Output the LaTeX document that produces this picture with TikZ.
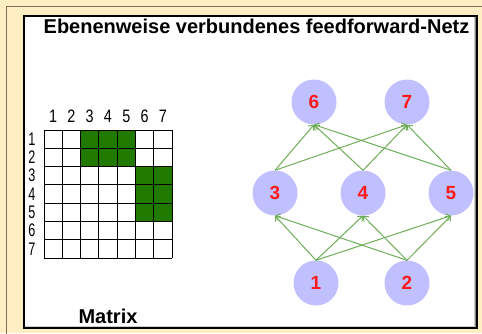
\documentclass[tikz,border=0pt]{standalone}
\usepackage{fontspec}
\setmainfont{Liberation Sans}
\usetikzlibrary{arrows.meta}
\definecolor{bgyellow}{HTML}{FFEEC4}
\definecolor{framegrey}{HTML}{7A705A}
\definecolor{cellgreen}{HTML}{217A00}
\definecolor{edgegreen}{HTML}{6EAE58}
\definecolor{neuron}{HTML}{C0C0FF}
\definecolor{numred}{HTML}{FF1A1A}
\tikzset{
  neuronnode/.style={circle, fill=neuron, minimum size=45pt, inner sep=0pt,
    text=numred, font=\bfseries\fontsize{19}{19}\selectfont},
  conn/.style={draw=edgegreen, line width=1pt, -{Straight Barb[length=4pt,width=7pt]}},
  collabel/.style={inner sep=0pt, font=\fontsize{18}{18}\selectfont},
  rowlabel/.style={inner sep=0pt, font=\fontsize{14}{14}\selectfont},
}
\begin{document}
\begin{tikzpicture}[x=1pt,y=-1pt]
\useasboundingbox (0,0) rectangle (482,333);
\fill[bgyellow] (0,0) rectangle (482,333);
\draw[framegrey, line width=1.2pt] (6.5,334) -- (6.5,6.5) -- (483,6.5);
% inner panel
\fill[white] (24,16) rectangle (477,328);
\draw[black!20, line width=1pt] (25,326) -- (474.5,326) -- (474.5,17);
\draw[black!50, line width=1pt] (25,327) -- (475.5,327) -- (475.5,17);
\draw[black, line width=1.6pt] (24,16) rectangle (477,328);
% title
\node[anchor=base, inner sep=0pt, font=\bfseries\fontsize{20}{20}\selectfont] (title) at (256.5,33) {Ebenenweise verbundenes feedforward-Netz};
% matrix
\def\cs{18.2857}
\foreach \r/\c in {1/3,1/4,1/5,2/3,2/4,2/5,3/6,3/7,4/6,4/7,5/6,5/7}{
  \fill[cellgreen] ({44+(\c-1)*\cs},{130+(\r-1)*\cs}) rectangle ++(\cs,\cs);
}
\foreach \i in {0,...,7}{
  \draw[black, line width=1pt] ({44+\i*\cs},130) -- ({44+\i*\cs},258);
  \draw[black, line width=1pt] (44,{130+\i*\cs}) -- (172,{130+\i*\cs});
}
\foreach \i in {1,...,7}{
  \node[collabel] (col\i) at ({44+(\i-0.5)*\cs},116.5) {\scalebox{0.8}[1]{\i}};
  \node[rowlabel] (row\i) at (32,{130+(\i-0.5)*\cs}) {\scalebox{0.9}[1.3]{\i}};
}
\node[anchor=base, inner sep=0pt, font=\bfseries\fontsize{20}{20}\selectfont] (matrixlabel) at (108,323) {Matrix};
% network
\node[neuronnode] (n6) at (314,102) {6};
\node[neuronnode] (n7) at (407,102) {7};
\node[neuronnode] (n3) at (275,193) {3};
\node[neuronnode] (n4) at (363,193) {4};
\node[neuronnode] (n5) at (451,193) {5};
\node[neuronnode] (n1) at (316,283) {1};
\node[neuronnode] (n2) at (407,283) {2};
\foreach \a/\b in {1/3,1/4,1/5,2/3,2/4,2/5,3/6,3/7,4/6,4/7,5/6,5/7}{
  \draw[conn] (n\a.north) -- (n\b.south);
}
\end{tikzpicture}
\end{document}
